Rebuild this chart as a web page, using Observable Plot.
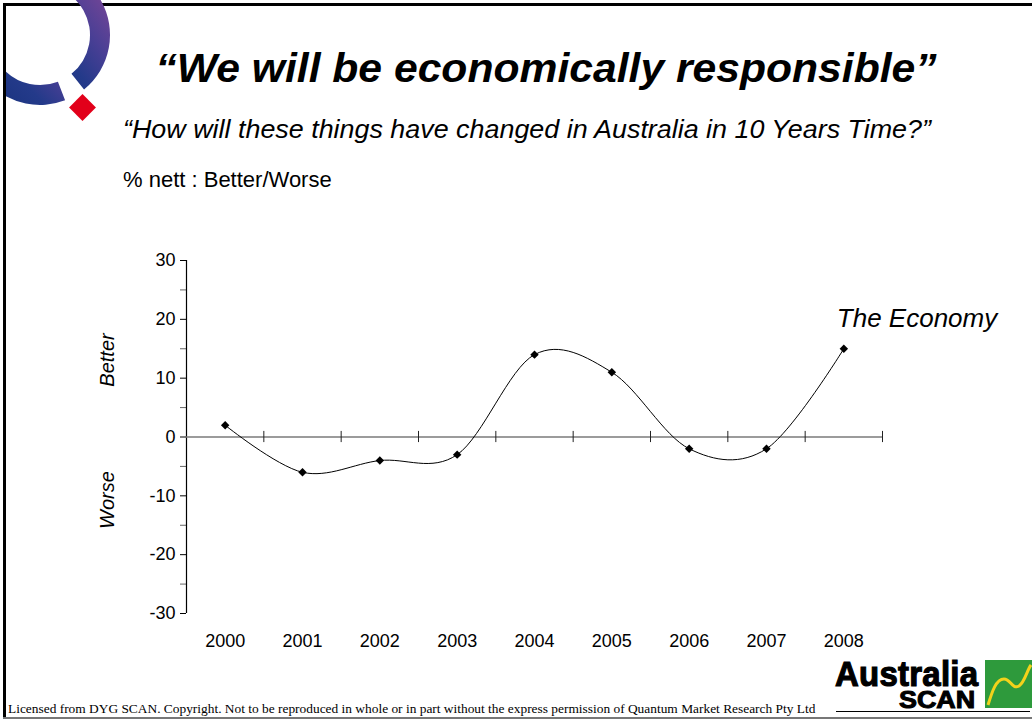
<!DOCTYPE html>
<html>
<head>
<meta charset="utf-8">
<script src="https://cdn.jsdelivr.net/npm/d3@7"></script>
<script src="https://cdn.jsdelivr.net/npm/@observablehq/plot@0.6"></script>
<style>
  html, body { margin: 0; padding: 0; background: #fff; }
  #page { position: relative; width: 1032px; height: 722px; overflow: hidden; font-family: "Liberation Sans", Arial, sans-serif; color: #000; }
  #chart { position: absolute; left: 0; top: 0; }
  .abs { position: absolute; white-space: nowrap; }
  #title { left: 0; width: 1092px; text-align: center; top: 46px; font-size: 40px; font-weight: bold; font-style: italic; transform: scaleX(1.066); transform-origin: 546px 0; }
  #subtitle { left: 123px; top: 115px; font-size: 25px; font-style: italic; transform: scaleX(1.075); transform-origin: 0 0; }
  #unit { left: 123px; top: 167px; font-size: 22px; }
  .side { font-size: 20px; font-style: italic; transform: translate(-50%, -50%) rotate(-90deg); }
  #footer { left: 8px; top: 701px; font-family: "Liberation Serif", "Times New Roman", serif; font-size: 13.4px; }
  #frameL { left: 3px; top: 3px; width: 3px; height: 716px; background: #000; }
  #frameT { left: 3px; top: 3px; width: 1029px; height: 3px; background: #000; }
  #frameB { left: 3px; top: 717px; width: 1029px; height: 2px; background: #777; }
  #brand1 { left: 835px; top: 661px; font-size: 35px; line-height: 26px; font-weight: bold; -webkit-text-stroke: 1.2px #000; transform: scaleX(0.94); transform-origin: 0 0; letter-spacing: 0.3px; }
  #brand2 { left: 899px; top: 691px; font-size: 24px; line-height: 18px; font-weight: bold; -webkit-text-stroke: 1px #000; transform: scaleX(1.12); transform-origin: 0 0; }
  #brandLine { left: 836px; top: 711px; width: 194px; height: 1px; background: #000; }
</style>
</head>
<body>
<div id="page">
  <div id="chart"></div>
  <div class="abs" id="frameL"></div>
  <div class="abs" id="frameT"></div>
  <div class="abs" id="frameB"></div>
  <svg class="abs" id="qlogo" style="left:0;top:0" width="125" height="130"></svg>
  <div class="abs" id="title">“We will be economically responsible”</div>
  <div class="abs" id="subtitle">“How will these things have changed in Australia in 10 Years Time?”</div>
  <div class="abs" id="unit">% nett : Better/Worse</div>
  <div class="abs side" style="left:107px;top:360px">Better</div>
  <div class="abs side" style="left:107px;top:500px">Worse</div>
  <div class="abs" id="footer">Licensed from DYG SCAN. Copyright. Not to be reproduced in whole or in part without the express permission of Quantum Market Research Pty Ltd</div>
  <div class="abs" id="brand1">Australia</div>
  <div class="abs" id="brand2">SCAN</div>
  <div class="abs" id="brandLine"></div>
  <svg class="abs" style="left:985px;top:660px" width="47" height="48">
    <rect x="0" y="0" width="47" height="48" fill="#2e9a3c"/>
    <path d="M 3 45 C 7 32, 11 19, 19 19 C 26 19, 27 30, 34 26 C 40 22, 42 10, 46 5" fill="none" stroke="#f2d21b" stroke-width="3"/>
  </svg>
</div>
<script>
// ---- data ----
const years = [2000, 2001, 2002, 2003, 2004, 2005, 2006, 2007, 2008];
const economy = [2, -6, -4, -3, 14, 11, -2, -2, 15];
const seriesName = "The Economy";
const yMajorTicks = [-30, -20, -10, 0, 10, 20, 30];
const yMinorTicks = [-25, -15, -5, 5, 15, 25];

const data = years.map((year, i) => ({year, value: economy[i]}));
const boundaries = years.map(y => y + 0.5);
const xDomain = [years[0] - 0.5, years[years.length - 1] + 0.5];
const yDomain = [yMajorTicks[0], yMajorTicks[yMajorTicks.length - 1]];

const chart = Plot.plot({
  width: 1032,
  height: 722,
  marginLeft: 186,
  marginRight: 150,
  marginTop: 260,
  marginBottom: 109,
  style: {fontFamily: "'Liberation Sans', Arial, sans-serif", fontSize: "18px", background: "transparent", color: "#000", overflow: "visible"},
  x: {domain: xDomain},
  y: {domain: yDomain},
  marks: [
    Plot.axisY(yMajorTicks, {tickSize: 6, tickPadding: 5, label: null, tickFormat: d => String(d), stroke: "#000"}),
    Plot.axisY(yMinorTicks, {tickSize: 6, label: null, tickFormat: () => "", stroke: "#666"}),
    Plot.axisX(years, {tickSize: 0, tickPadding: 21, label: null, tickFormat: d => String(d)}),
    Plot.ruleX([xDomain[0]], {y1: yDomain[0], y2: yDomain[1], stroke: "#000", strokeWidth: 1.2}),
    Plot.ruleY([0], {stroke: "#7a7a7a", strokeWidth: 1.5}),
    Plot.ruleX(boundaries, {y1: -0.95, y2: 0.95, stroke: "#222", strokeWidth: 1}),
    Plot.line(data, {x: "year", y: "value", curve: "cardinal", tension: 0, stroke: "#000", strokeWidth: 1}),
    Plot.dot(data, {x: "year", y: "value", symbol: "diamond2", r: 3.8, fill: "#000", stroke: "none"}),
    Plot.text(data.slice(-1), {x: "year", y: "value", text: () => seriesName, textAnchor: "start", dx: -7, dy: -30, fontSize: 26, fontStyle: "italic"})
  ]
});
document.getElementById("chart").appendChild(chart);

// ---- decorative corner logo ----
(function () {
  const svg = d3.select("#qlogo");
  const defs = svg.append("defs");
  const g = defs.append("linearGradient").attr("id", "ring").attr("x1", 0).attr("y1", 1).attr("x2", 1).attr("y2", 0);
  [[0, "#132f78"], [0.4, "#243a8a"], [0.62, "#4a3f95"], [0.8, "#6a4496"], [1, "#a35486"]].forEach(([o, c]) =>
    g.append("stop").attr("offset", o).attr("stop-color", c));
  defs.append("clipPath").attr("id", "qclip").append("rect").attr("x", 6).attr("y", 0).attr("width", 130).attr("height", 130);
  const arc = d3.arc().innerRadius(50).outerRadius(70);
  const rad = a => (a + 90) * Math.PI / 180; // screen angle (0 = +x, clockwise) -> d3 angle
  const grp = svg.append("g").attr("clip-path", "url(#qclip)").append("g").attr("transform", "translate(40,35)");
  grp.append("path").attr("d", arc({startAngle: rad(-110), endAngle: rad(51)})).attr("fill", "url(#ring)");
  grp.append("path").attr("d", arc({startAngle: rad(69), endAngle: rad(200)})).attr("fill", "url(#ring)");
  svg.append("rect").attr("x", 73).attr("y", 98).attr("width", 19).attr("height", 19)
    .attr("fill", "#e2001a").attr("transform", "rotate(45 82.5 107.5)");
})();
</script>
</body>
</html>
